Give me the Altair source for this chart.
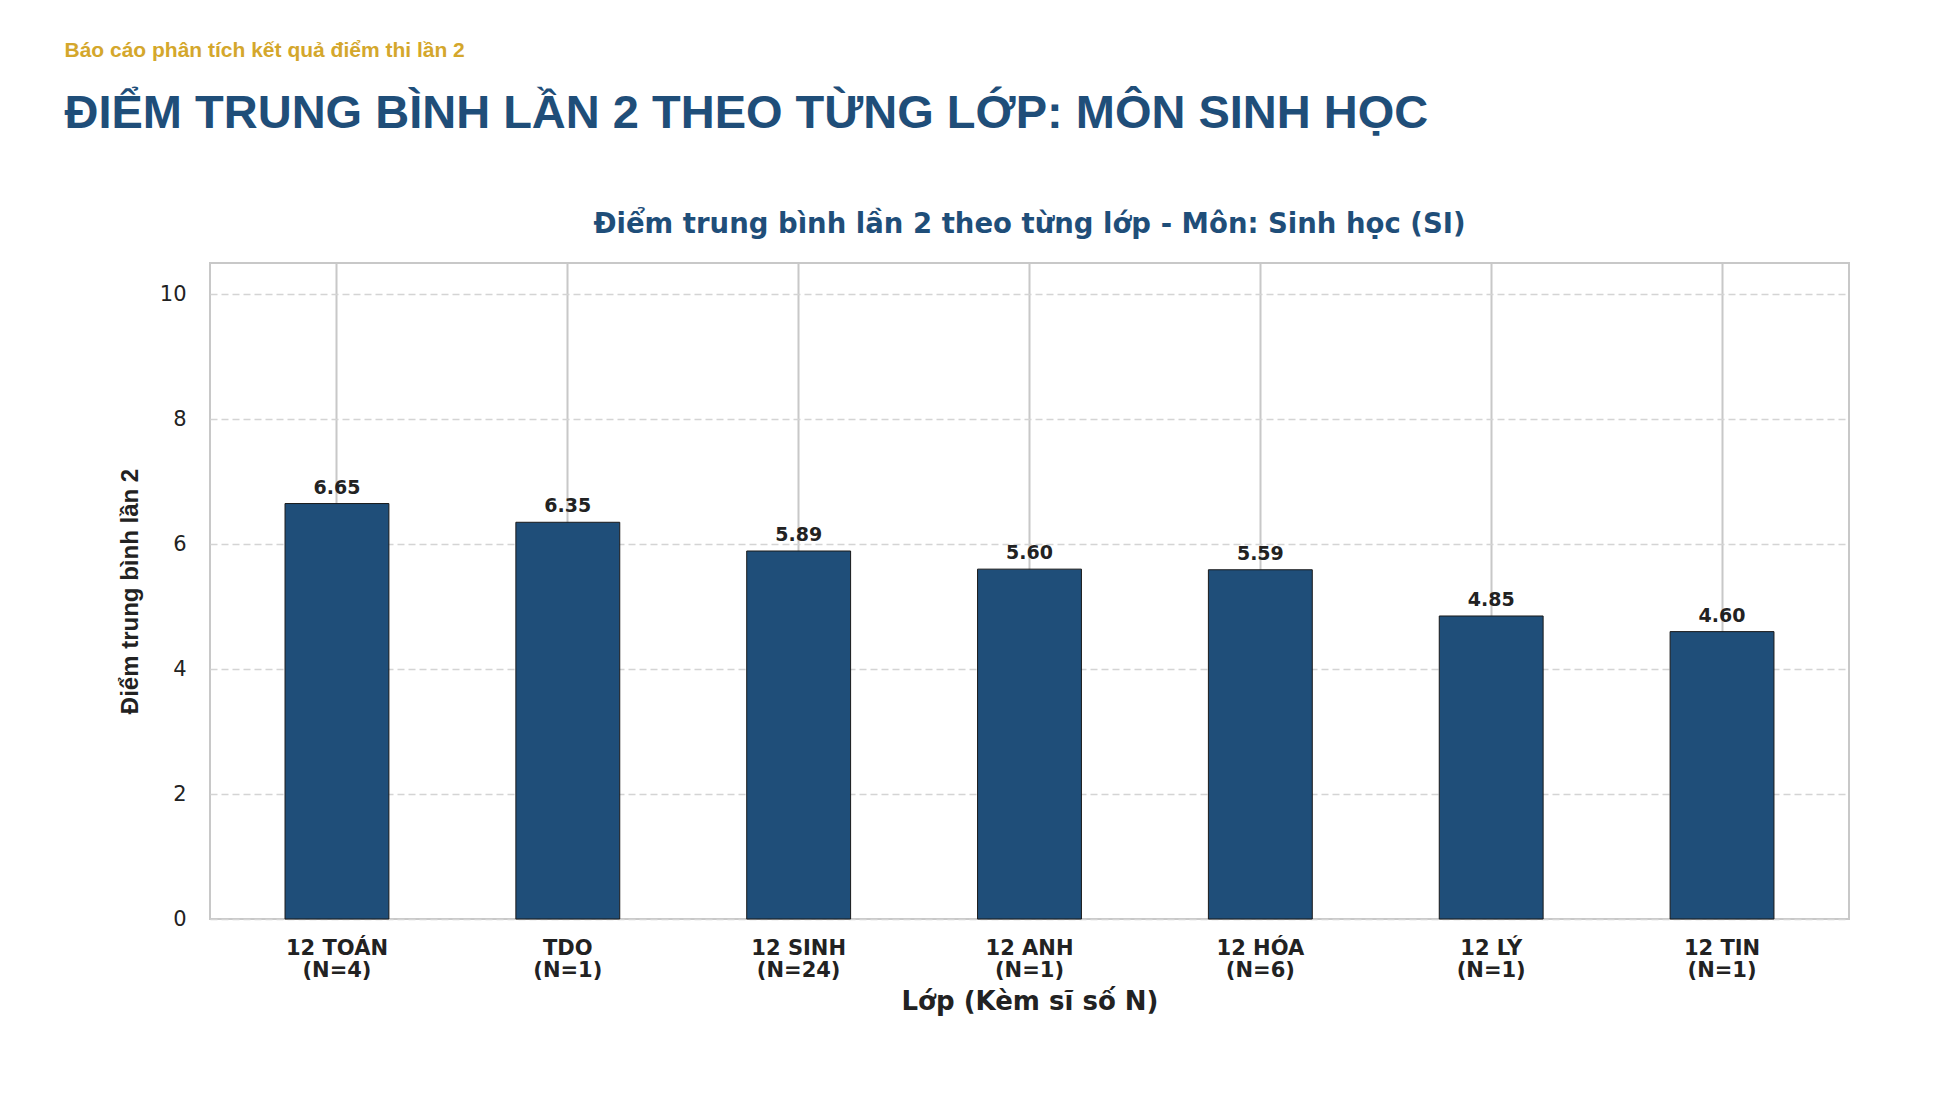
import altair as alt
import pandas as pd

# ---- data ----
classes = ["12 TOÁN", "TDO", "12 SINH", "12 ANH", "12 HÓA", "12 LÝ", "12 TIN"]
counts = [4, 1, 24, 1, 6, 1, 1]
means = [6.65, 6.35, 5.89, 5.60, 5.59, 4.85, 4.60]
y_ticks = [0, 2, 4, 6, 8, 10]

report_label = "Báo cáo phân tích kết quả điểm thi lần 2"
page_title = "ĐIỂM TRUNG BÌNH LẦN 2 THEO TỪNG LỚP: MÔN SINH HỌC"
chart_title = "Điểm trung bình lần 2 theo từng lớp - Môn: Sinh học (SI)"
x_title = "Lớp (Kèm sĩ số N)"
y_title = "Điểm trung bình lần 2"

df = pd.DataFrame({
    "lop": [f"{c}\n(N={n})" for c, n in zip(classes, counts)],
    "diem": means,
})

W, H = 1639, 656
BLUE = "#1F4E79"
GOLD = "#D4A72C"
DARK = "#222222"

x_enc = alt.X(
    "lop:N", sort=None,
    scale=alt.Scale(paddingInner=0.55, paddingOuter=0.325),
    axis=alt.Axis(
        title=x_title, labelExpr="split(datum.label, '\\n')",
        labelAngle=0, labelFont="DejaVu Sans", labelFontWeight="bold",
        labelFontSize=21, labelColor=DARK, labelLineHeight=22, labelPadding=18,
        labelBaseline="top",
        ticks=False, domain=False, bandPosition=0.5,
        grid=True, gridColor="#c8c8c8", gridWidth=2,
        titleFont="DejaVu Sans", titleFontWeight="bold", titleFontSize=26,
        titleColor=DARK, titleX=W / 2, titleY=90, titleAlign="center",
        titleBaseline="alphabetic",
    ),
)
y_enc = alt.Y(
    "diem:Q",
    scale=alt.Scale(domain=[0, 10.5], nice=False),
    axis=alt.Axis(
        title=y_title, values=y_ticks, format="d", ticks=False, domain=False,
        labelFont="DejaVu Sans", labelFontSize=21, labelColor=DARK, labelPadding=24,
        grid=True, gridColor="#d4d4d4", gridWidth=1.5, gridDash=[7, 4],
        titleFont="Liberation Sans", titleFontWeight="bold", titleFontSize=24,
        titleColor=DARK, titleAngle=270, titleX=-72.4, titleY=H / 2,
        titleAlign="center", titleBaseline="alphabetic",
    ),
)

base = alt.Chart(df)
bars = base.mark_bar(color=BLUE, stroke="#1a1a1a", strokeWidth=1).encode(x=x_enc, y=y_enc)
labels = base.mark_text(
    font="DejaVu Sans", fontWeight="bold", fontSize=19, color=DARK,
    baseline="alphabetic", align="center", dy=-10,
).encode(x=alt.X("lop:N", sort=None), y="diem:Q", text=alt.Text("diem:Q", format=".2f"))

def header(text, x, y, size, color, font, align="left"):
    return alt.Chart(pd.DataFrame({"t": [text]})).mark_text(
        font=font, fontWeight="bold", fontSize=size, color=color,
        align=align, baseline="alphabetic",
    ).encode(text="t:N", x=alt.value(x), y=alt.value(y))

h1 = header(report_label, -145.5, -205.7, 21, GOLD, "Liberation Sans")
h2 = header(page_title, -145.5, -135, 47, BLUE, "Liberation Sans")
h3 = header(chart_title, W / 2, -30.3, 27.5, BLUE, "DejaVu Sans", align="center")

chart = alt.layer(bars, labels, h1, h2, h3).properties(
    width=W, height=H,
    autosize=alt.AutoSizeParams(type="none"),
    padding={"left": 202, "top": 255, "right": 80, "bottom": 160},
    background="white",
).configure_view(stroke="#c8c8c8", strokeWidth=2)

chart.save("out.html", embed_options={"renderer": "svg", "actions": False})
